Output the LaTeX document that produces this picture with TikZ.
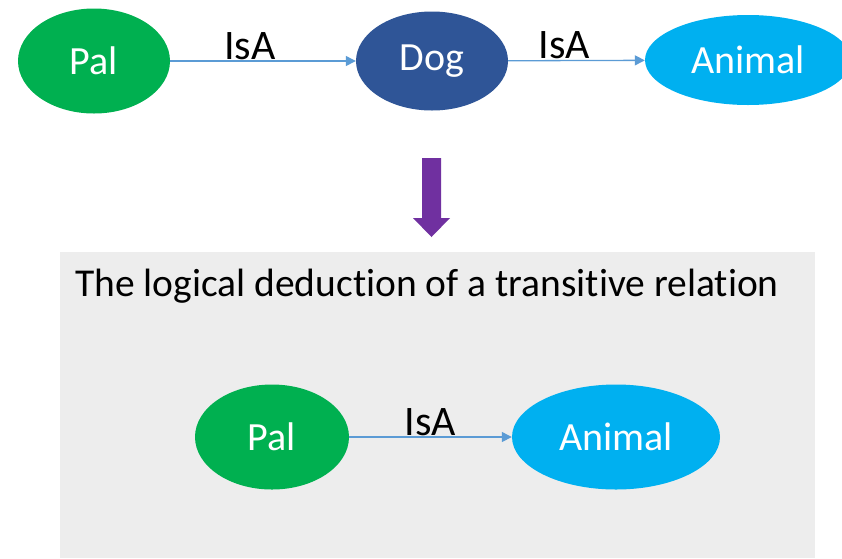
\documentclass[tikz,border=0pt]{standalone}
\usepackage{fontspec}
\setmainfont{Carlito}[Ligatures=NoCommon]
\usetikzlibrary{shapes.geometric,arrows.meta}
\definecolor{cgreen}{HTML}{00B050}
\definecolor{cdblue}{HTML}{2F5597}
\definecolor{clblue}{HTML}{00B0F0}
\definecolor{cpurple}{HTML}{7030A0}
\definecolor{cgrey}{HTML}{EDEDED}
\definecolor{cline}{HTML}{5B9BD5}
\begin{document}
\begin{tikzpicture}[x=1pt,y=-1pt,
  ent/.style={ellipse,inner sep=0pt,text=white,font=\fontsize{40}{44}\selectfont},
  rel/.style={draw=cline,line width=1.3pt,-{Triangle[length=10pt,width=10pt]}},
  lbl/.style={above,inner sep=1pt,text=black,font=\fontsize{42}{46}\selectfont}]
\useasboundingbox (0,0) rectangle (842,558);
\fill[white] (0,0) rectangle (842,558);
% top row
\node[ent,fill=cgreen,minimum width=152pt,minimum height=105pt] (pal1) at (94,61) {Pal};
\node[ent,fill=cdblue,minimum width=152pt,minimum height=99pt] (dog) at (432,61) {Dog};
\node[ent,fill=clblue,minimum width=206pt,minimum height=90pt] (ani1) at (748,60) {Animal};
\draw[rel] (pal1) -- node[lbl,pos=0.43] {IsA} (dog);
\draw[rel] (dog) -- node[lbl,pos=0.41] {IsA} (ani1);
% purple arrow
\fill[cpurple] (422,158) -- (441,158) -- (441,218) -- (450,218) -- (431.5,237) -- (413,218) -- (422,218) -- cycle;
% grey box
\node[fill=cgrey,inner sep=0pt,minimum width=755pt,minimum height=306pt] (box) at (437.5,405) {};
\node[anchor=west,inner sep=0pt,font=\fontsize{39.5}{44}\selectfont] (title) at (75,286) {The logical deduction of a transitive relation};
% bottom row
\node[ent,fill=cgreen,minimum width=154pt,minimum height=105pt] (pal2) at (272,437) {Pal};
\node[ent,fill=clblue,minimum width=208pt,minimum height=105pt] (ani2) at (616,437) {Animal};
\draw[rel] (pal2) -- node[lbl] {IsA} (ani2);
\end{tikzpicture}
\end{document}
